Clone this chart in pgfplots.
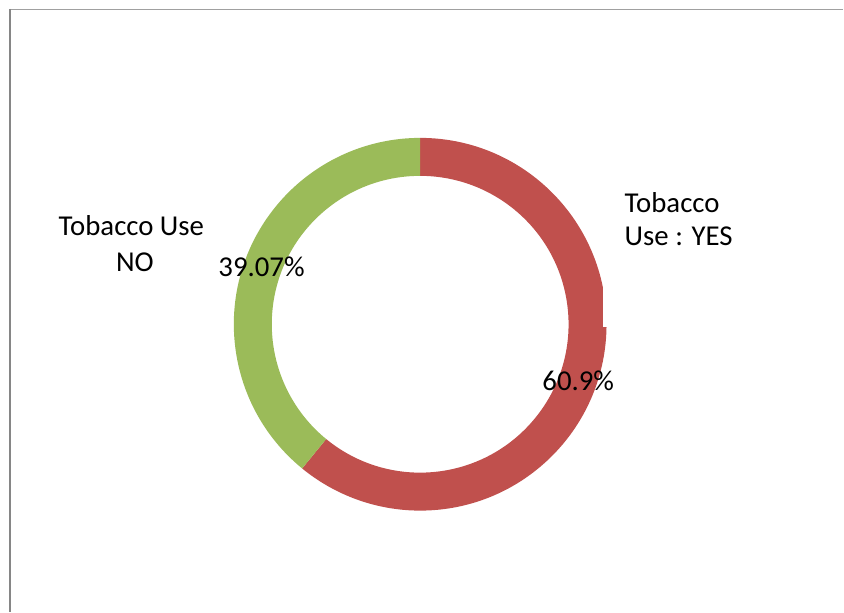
\documentclass[border=0pt]{standalone}
\usepackage{pgfplots}
\pgfplotsset{compat=1.18}
\usepackage{pgfplotstable}
\usepackage{fontspec}
\setmainfont{Carlito}
\definecolor{yesred}{HTML}{C0504D}
\definecolor{nogreen}{HTML}{9BBB59}
\pgfplotstableread{
label value
YES 60.9
NO 39.07
}\datatable
\begin{document}
\begin{tikzpicture}
\pgfplotstablegetelem{0}{value}\of\datatable \let\yesval\pgfplotsretval
\pgfplotstablegetelem{1}{value}\of\datatable \let\noval\pgfplotsretval
\pgfmathsetmacro\total{\yesval+\noval}
\pgfmathsetmacro\yesfrac{\yesval/\total}
\pgfmathsetmacro\yesang{360*\yesfrac}
\pgfmathsetmacro\endang{90-\yesang}
\def\cx{420.5}\def\cy{287.5}
\def\Ro{186.5}\def\Ri{148.5}
\pgfmathsetmacro\oxe{\cx+\Ro*cos(\endang)}
\pgfmathsetmacro\oye{\cy+\Ro*sin(\endang)}
\pgfmathsetmacro\ixe{\cx+\Ri*cos(\endang)}
\pgfmathsetmacro\iye{\cy+\Ri*sin(\endang)}
\begin{axis}[x=1pt,y=1pt,xmin=0,xmax=844,ymin=0,ymax=612,hide axis,clip=false,scale only axis]
 \path (axis cs:0,0) rectangle (axis cs:844,612);
 % YES segment
 \fill[yesred] (axis cs:\cx,{\cy+\Ro}) arc[start angle=90,end angle=\endang,radius=\Ro pt]
   -- (axis cs:\ixe,\iye) arc[start angle=\endang,end angle=90,radius=\Ri pt] -- cycle;
 % NO segment
 \fill[nogreen] (axis cs:\oxe,\oye) arc[start angle=\endang,end angle=-270,radius=\Ro pt]
   -- (axis cs:\cx,{\cy+\Ri}) arc[start angle=-270,end angle=\endang,radius=\Ri pt] -- cycle;
 % plot area clipping artefact
 \fill[white] (axis cs:603.5,285) rectangle (axis cs:615,335);
 % frame
 \draw[color={rgb,255:red,160;green,160;blue,160},line width=1.3pt] (axis cs:9,602.5) -- (axis cs:844,602.5);
 \draw[color={rgb,255:red,134;green,134;blue,134},line width=2pt] (axis cs:10,603.2) -- (axis cs:10,0);
 % labels
 \node[inner sep=0,anchor=base] at (axis cs:131.5,376) {\fontsize{28.8}{35}\selectfont Tobacco Use};
 \node[inner sep=0,anchor=base] at (axis cs:135,340) {\fontsize{28.8}{35}\selectfont NO};
 \node[inner sep=0,anchor=base] at (axis cs:261.7,335) {\fontsize{28.8}{35}\selectfont 39.07\%};
 \node[inner sep=0,anchor=base west] at (axis cs:625,399) {\fontsize{28.8}{35}\selectfont Tobacco};
 \node[inner sep=0,anchor=base west] at (axis cs:625,366) {\fontsize{28.8}{35}\selectfont Use : YES};
 \node[inner sep=0,anchor=base] at (axis cs:578.7,221.3) {\fontsize{28.8}{35}\selectfont 60.9\%};
\end{axis}
\end{tikzpicture}
\end{document}
